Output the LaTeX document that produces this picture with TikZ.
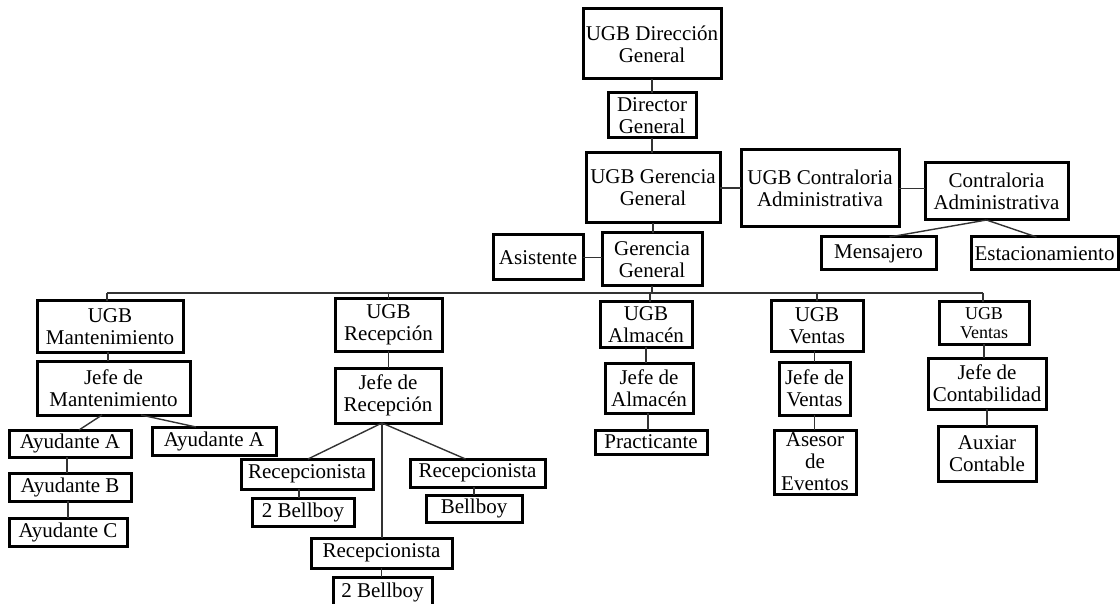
\documentclass[tikz,border=0pt]{standalone}
\usepackage{fontspec}
\setmainfont{Liberation Serif}
\begin{document}
\begin{tikzpicture}[x=1pt,y=-1pt,
  box/.style={draw, line width=3pt, inner sep=0pt, outer sep=0pt, align=center,
              font=\fontsize{21}{22}\selectfont},
  link/.style={line width=1.4pt, draw=black!80}]
\useasboundingbox (0,0) rectangle (1120,604);
% top
\node[box, minimum width=138pt, minimum height=70pt] (dir) at (652,44) {UGB Dirección\\General};
\node[box, minimum width=88pt, minimum height=45pt] (dg) at (652,115.5) {Director\\General};
\node[box, minimum width=134pt, minimum height=70pt] (ugg) at (653,188) {UGB Gerencia\\General};
\node[box, minimum width=158pt, minimum height=77pt] (ugc) at (820,188.5) {UGB Contraloria\\Administrativa};
\node[box, minimum width=143pt, minimum height=57pt] (ca) at (996.5,191.5) {Contraloria\\Administrativa};
\node[box, minimum width=90pt, minimum height=45pt] (asis) at (538,257.5) {Asistente};
\node[box, minimum width=100pt, minimum height=53pt] (gg) at (652,259.5) {Gerencia\\General};
\node[box, minimum width=115pt, minimum height=33pt] (mens) at (878.5,253.5) {Mensajero};
\node[box, minimum width=147pt, minimum height=33pt] (est) at (1044.5,253.5) {Estacionamiento};
% mantenimiento
\node[box, minimum width=146pt, minimum height=51pt] (um) at (110,326.5) {UGB\\Mantenimiento};
\node[box, minimum width=153pt, minimum height=54pt] (jm) at (113.5,388) {Jefe de\\Mantenimiento};
\node[box, minimum width=122pt, minimum height=27pt] (aa1) at (70,443.5) {Ayudante A};
\node[box, minimum width=124pt, minimum height=28pt] (aa2) at (214,441) {Ayudante A};
\node[box, minimum width=122pt, minimum height=28pt] (ab) at (70,487) {Ayudante B};
\node[box, minimum width=118pt, minimum height=28pt] (ac) at (68,532) {Ayudante C};
% recepcion
\node[box, minimum width=107pt, minimum height=52pt] (ur) at (388.5,325) {UGB\\Recepción};
\node[box, minimum width=106pt, minimum height=55pt] (jr) at (388,395.5) {Jefe de\\Recepción};
\node[box, minimum width=132pt, minimum height=30pt] (r1) at (307,474) {Recepcionista};
\node[box, minimum width=102pt, minimum height=28pt] (b1) at (303,512) {2 Bellboy};
\node[box, minimum width=135pt, minimum height=28pt] (r2) at (477.5,473) {Recepcionista};
\node[box, minimum width=96pt, minimum height=27pt] (b2) at (474,508.5) {Bellboy};
\node[box, minimum width=141pt, minimum height=30pt] (r3) at (381.5,553) {Recepcionista};
\node[box, minimum width=99pt, minimum height=30pt] (b3) at (382.5,592) {2 Bellboy};
% almacen
\node[box, minimum width=92pt, minimum height=45pt] (ua) at (646,324.5) {UGB\\Almacén};
\node[box, minimum width=88pt, minimum height=50pt] (ja) at (649,388) {Jefe de\\Almacén};
\node[box, minimum width=112pt, minimum height=24pt] (prac) at (651,442) {Practicante};
% ventas
\node[box, minimum width=92pt, minimum height=50pt] (uv) at (817,326) {UGB\\Ventas};
\node[box, minimum width=71pt, minimum height=53pt] (jv) at (814.5,388.5) {Jefe de\\Ventas};
\node[box, minimum width=82pt, minimum height=64pt] (ae) at (815,462) {Asesor\\de\\Eventos};
% ventas 2
\node[box, minimum width=90pt, minimum height=42pt, font=\fontsize{18}{19}\selectfont] (uv2) at (984,323) {UGB\\Ventas};
\node[box, minimum width=118pt, minimum height=51pt] (jc) at (987,383.5) {Jefe de\\Contabilidad};
\node[box, minimum width=98pt, minimum height=55pt] (aux) at (987,453.5) {Auxiar\\Contable};

% connectors top
\draw[link] (dir.south) -- (dir.south |- dg.north);
\draw[link] (dg.south) -- (dg.south |- ugg.north);
\draw[link] (ugg.east) -- (ugg.east -| ugc.west);
\draw[link] (ugc.east) -- (ugc.east -| ca.west);
\draw[link] (ugg.south) -- (ugg.south |- gg.north);
\draw[link] (asis.east) -- (asis.east -| gg.west);
\draw[link] ([xshift=-10pt]ca.south) -- ([xshift=11pt]mens.north);
\draw[link] ([xshift=-10pt]ca.south) -- ([xshift=-8pt]est.north);
% bus
\coordinate (busL) at (107,293);
\coordinate (busR) at (983,293);
\coordinate (dA) at (650,293);
\draw[link] (busL) -- (busR);
\draw[link] (gg.south) -- (gg.south |- busL);
\draw[link] (busL) -- (busL |- um.north);
\draw[link] (ur.north |- busL) -- (ur.north);
\draw[link] (dA) -- (dA |- ua.north);
\draw[link] (uv.north |- busL) -- (uv.north);
\draw[link] (busR) -- (busR |- uv2.north);
% mantenimiento
\draw[link] ([xshift=-2pt]um.south) -- ([xshift=-2pt]um.south |- jm.north);
\draw[link] ([xshift=-11.5pt]jm.south) -- ([xshift=9pt]aa1.north);
\draw[link] ([xshift=27.5pt]jm.south) -- ([xshift=-18pt]aa2.north);
\draw[link] ([xshift=-3pt]aa1.south) -- ([xshift=-3pt]aa1.south |- ab.north);
\draw[link] (ac.north |- ab.south) -- (ac.north);
% recepcion
\draw[link] (ur.south) -- (ur.south |- jr.north);
\coordinate (jrb) at ([xshift=-6pt]jr.south);
\draw[link] (jrb) -- ([xshift=1pt]r1.north);
\draw[link] (jrb) -- ([xshift=-12pt]r2.north);
\draw[link] (jrb) -- (jrb |- r3.north);
\draw[link] ([xshift=-4pt]b1.north |- r1.south) -- ([xshift=-4pt]b1.north);
\draw[link] (b2.north |- r2.south) -- (b2.north);
\draw[link] (r3.south) -- (r3.south |- b3.north);
% almacen
\draw[link] (ua.south) -- (ua.south |- ja.north);
\draw[link] ([xshift=-1pt]ja.south) -- ([xshift=-1pt]ja.south |- prac.north);
% ventas
\draw[link] (jv.north |- uv.south) -- (jv.north);
\draw[link] (jv.south) -- (jv.south |- ae.north);
% ventas 2
\draw[link] (uv2.south) -- (uv2.south |- jc.north);
\draw[link] (jc.south) -- (jc.south |- aux.north);
\end{tikzpicture}
\end{document}
